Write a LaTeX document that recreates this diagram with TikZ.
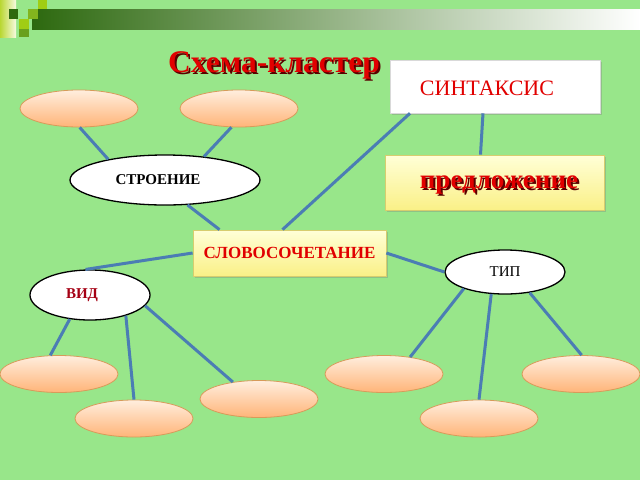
\documentclass[tikz,border=0pt]{standalone}
\usepackage{fontspec}
\setmainfont{Liberation Serif}
\usetikzlibrary{shapes.geometric,shadows}
\definecolor{bg}{RGB}{152,230,138}
\definecolor{darkbar}{RGB}{45,105,15}
\definecolor{stripl}{RGB}{185,215,50}
\definecolor{stripr}{RGB}{248,250,225}
\definecolor{sqa}{RGB}{130,180,30}
\definecolor{sqb}{RGB}{160,205,20}
\definecolor{sqc}{RGB}{105,160,30}
\definecolor{lineblue}{RGB}{75,125,180}
\definecolor{txtred}{RGB}{225,0,0}
\definecolor{shadowred}{RGB}{90,0,0}
\definecolor{vidred}{RGB}{165,0,20}
\definecolor{peachtop}{RGB}{255,238,222}
\definecolor{peachbot}{RGB}{255,180,120}
\definecolor{peachline}{RGB}{215,155,90}
\definecolor{yeltop}{RGB}{255,255,215}
\definecolor{yelbot}{RGB}{250,240,135}
\definecolor{yelline}{RGB}{215,205,110}
\newcommand{\shadowtext}[1]{\rlap{\hspace{2pt}\raisebox{-2pt}{\color{shadowred}#1}}#1}
\tikzset{
  conn/.style={draw=lineblue, line width=3pt},
  peach/.style={ellipse, minimum width=118pt, minimum height=37pt, inner sep=0pt,
    top color=peachtop, bottom color=peachbot, draw=peachline, line width=0.8pt},
  oval/.style={ellipse, inner sep=0pt, fill=white, draw=black, line width=1.3pt},
  ybox/.style={rectangle, inner sep=0pt, top color=yeltop, bottom color=yelbot,
    draw=yelline, line width=0.8pt,
    drop shadow={shadow xshift=1.5pt, shadow yshift=-1.5pt, opacity=0.35}},
  wbox/.style={rectangle, inner sep=0pt, fill=white, draw=white!85!black, line width=0.6pt,
    drop shadow={shadow xshift=1.5pt, shadow yshift=-1.5pt, opacity=0.35}},
}
\begin{document}
\begin{tikzpicture}[x=1pt,y=-1pt]
\fill[bg] (0,0) rectangle (640,480);
\useasboundingbox (0,0) rectangle (640,480);
% top bar
\shade[left color=darkbar, right color=white] (32,9) rectangle (640,29);
\shade[left color=stripl, right color=stripr] (0,0) rectangle (16,37);
\fill[darkbar] (9,9) rectangle (18,19);
\fill[sqa] (28,9) rectangle (38,19);
\fill[sqb] (19,19) rectangle (29,29);
\fill[sqc] (19,29) rectangle (29,37);
\fill[sqb] (38,0) rectangle (47,9);

% title
\node (title) [text=txtred, font=\bfseries\fontsize{31.5}{31.5}\selectfont] at (274,66.5) {\shadowtext{Схема-кластер}};

% boxes
\node (sint) [wbox, minimum width=210pt, minimum height=53pt] at (495,86.5) {};
\node [text=txtred, font=\fontsize{22}{22}\selectfont] at (487,88) {СИНТАКСИС};
\node (pred) [ybox, minimum width=219pt, minimum height=55pt] at (494.5,182.5) {};
\node [text=txtred, font=\bfseries\fontsize{27}{27}\selectfont] at (499,186.5) {\shadowtext{предложение}};
\node (slovo) [ybox, minimum width=193pt, minimum height=46pt, text=txtred,
  font=\bfseries\fontsize{17}{17}\selectfont] at (289.5,253) {СЛОВОСОЧЕТАНИЕ};

% ovals
\node (stroe) [oval, minimum width=190pt, minimum height=50pt,
  font=\bfseries\fontsize{15}{15}\selectfont] at (165,180) {\hspace*{-14pt}СТРОЕНИЕ};
\node (tip) [oval, minimum width=120pt, minimum height=44pt,
  font=\fontsize{15}{15}\selectfont] at (505,272) {\raisebox{-3pt}{ТИП}};
\node (vid) [oval, minimum width=120pt, minimum height=50pt, text=vidred,
  font=\bfseries\fontsize{15}{15}\selectfont] at (90,295) {\hspace*{-16pt}\raisebox{2pt}{ВИД}};

% peach ellipses
\node (p1) [peach] at (79,108.5) {};
\node (p2) [peach] at (239,108.5) {};
\node (pa) [peach] at (59,374) {};
\node (pb) [peach] at (134,418.5) {};
\node (pc) [peach] at (259,399) {};
\node (pd) [peach] at (384,374) {};
\node (pe) [peach] at (479,418.5) {};
\node (pf) [peach] at (581,374) {};

% connectors
\draw[conn] (p1.-88) -- (stroe.160);
\draw[conn] (p2.-112) -- (stroe.31);
\draw[conn] (stroe.-48) -- ([xshift=-70pt]slovo.north);
\draw[conn] ([xshift=-7pt]slovo.north) -- ([xshift=-85pt]sint.south);
\draw[conn] ([xshift=-12pt]sint.south) -- ([xshift=-14pt]pred.north);
\draw[conn] (slovo.west) -- (vid.100);
\draw[conn] (slovo.east) -- (tip.180);
\draw[conn] (vid.-130) -- (pa.115);
\draw[conn] (vid.-30) -- (pb.90);
\draw[conn] (vid.-11) -- (pc.147);
\draw[conn] (tip.-158) -- (pd.33);
\draw[conn] (tip.-122) -- (pe.90);
\draw[conn] (tip.-40) -- (pf.88);
\end{tikzpicture}
\end{document}
